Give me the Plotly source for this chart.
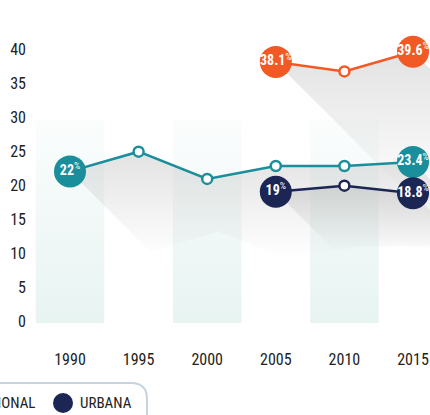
import plotly.graph_objects as go

# Data
years = [1990, 1995, 2000, 2005, 2010, 2015]
nacional = [22, 24.9, 20.9, 22.8, 22.8, 23.4]
rural = [None, None, None, 38.1, 36.7, 39.6]
urbana = [None, None, None, 19, 19.9, 18.8]
end_labels = {
    "nacional": ["22", None, None, None, None, "23.4"],
    "rural": [None, None, None, "38.1", None, "39.6"],
    "urbana": [None, None, None, "19", None, "18.8"],
}
col_years = [1990, 2000, 2010]
col_top = 29.6

TEAL = "#1a8e9b"
ORANGE = "#f15a24"
NAVY = "#1c2654"
FONT = "Liberation Sans Narrow, Roboto Condensed, Arial Narrow, sans-serif"

W, H = 430, 415
L, R, T, B = 30, 0, 0, 75
pw, ph = W - L - R, H - T - B
# pixels per unit
px_year = 13.72
px_val = 6.8
x_range = [1990 - (70 - L) / px_year, 1990 + (W - 70) / px_year]
y_range = [-(ph - 321) / px_val, 321 / px_val]


def paper_x(px):
    return (px - L) / pw


def paper_y(py):
    return (T + ph - py) / ph


fig = go.Figure()

# background columns with soft gradient
for cy in col_years:
    fig.add_trace(go.Scatter(
        x=[cy - 2.5, cy + 2.5, cy + 2.5, cy - 2.5, cy - 2.5],
        y=[-0.3, -0.3, col_top, col_top, -0.3],
        mode="lines", line=dict(width=0), fill="toself",
        fillgradient=dict(type="vertical",
                          colorscale=[[0, "rgb(232,244,242)"], [1, "rgb(251,253,253)"]]),
        hoverinfo="skip", showlegend=False,
    ))

# 45 degree shadows under each line
series = [("nacional", nacional, TEAL, 80), ("rural", rural, ORANGE, 130), ("urbana", urbana, NAVY, 60)]
for name, vals, color, depth in series:
    pts = [(x, v) for x, v in zip(years, vals) if v is not None]
    dx, dy = depth / px_year, depth / px_val
    xs = [p[0] for p in pts] + [p[0] + dx for p in reversed(pts)]
    ys = [p[1] for p in pts] + [p[1] - dy for p in reversed(pts)]
    fig.add_trace(go.Scatter(
        x=xs + [xs[0]], y=ys + [ys[0]], mode="lines", line=dict(width=0), fill="toself",
        fillgradient=dict(type="vertical",
                          colorscale=[[0, "rgba(160,160,160,0)"], [1, "rgba(160,160,160,0.3)"]]),
        hoverinfo="skip", showlegend=False,
    ))

# lines and markers
for name, vals, color, depth in series:
    labels = end_labels[name]
    fig.add_trace(go.Scatter(
        x=years, y=vals, mode="lines+markers", connectgaps=False,
        line=dict(color=color, width=2.5),
        marker=dict(size=10, color="white", line=dict(color=color, width=2.5)),
        hoverinfo="skip", showlegend=False,
    ))
    ex = [x for x, l in zip(years, labels) if l]
    ey = [v for v, l in zip(vals, labels) if l]
    et = [f"<b>{l}</b><sup>%</sup>" for l in labels if l]
    fig.add_trace(go.Scatter(
        x=ex, y=ey, mode="markers+text", text=et, textposition="middle center",
        textfont=dict(family=FONT, size=14, color="white"),
        marker=dict(size=32, color=color, line=dict(width=0)),
        hoverinfo="skip", showlegend=False,
    ))

# custom legend (cropped at the left edge)
r = 16
lx0, lx1, ly0, ly1 = -20, 147, 383, 440
path = (f"M {paper_x(lx0)},{paper_y(ly0)} L {paper_x(lx1 - r)},{paper_y(ly0)} "
        f"Q {paper_x(lx1)},{paper_y(ly0)} {paper_x(lx1)},{paper_y(ly0 + r)} "
        f"L {paper_x(lx1)},{paper_y(ly1)} L {paper_x(lx0)},{paper_y(ly1)} Z")
fig.add_shape(type="path", xref="paper", yref="paper", path=path,
              line=dict(color="#c7d4de", width=2), fillcolor="white", layer="below")
fig.add_shape(type="circle", xref="paper", yref="paper",
              x0=paper_x(53), x1=paper_x(73), y0=paper_y(413), y1=paper_y(393),
              fillcolor=NAVY, line=dict(width=0))
fig.add_annotation(xref="paper", yref="paper", x=paper_x(37), y=paper_y(403),
                   text="NACIONAL", showarrow=False, xanchor="right", yanchor="middle",
                   font=dict(family=FONT, size=15, color="#222"))
fig.add_annotation(xref="paper", yref="paper", x=paper_x(78), y=paper_y(403),
                   text="URBANA", showarrow=False, xanchor="left", yanchor="middle",
                   font=dict(family=FONT, size=15, color="#222"))

fig.update_xaxes(range=x_range, tickvals=years, showgrid=False, zeroline=False,
                 showline=False, ticks="", ticklabelstandoff=8,
                 tickfont=dict(family=FONT, size=16, color="#222"))
fig.update_yaxes(range=y_range, tickvals=list(range(0, 41, 5)), showgrid=False,
                 zeroline=False, showline=False, ticks="", ticklabelstandoff=3,
                 tickfont=dict(family=FONT, size=16, color="#222"))
fig.update_layout(
    width=W, height=H, margin=dict(l=L, r=R, t=T, b=B),
    paper_bgcolor="white", plot_bgcolor="rgba(0,0,0,0)",
    font=dict(family=FONT), showlegend=False,
)

fig.write_html("out.html", config={"displayModeBar": False},
               post_script="document.body.style.margin='0';")
